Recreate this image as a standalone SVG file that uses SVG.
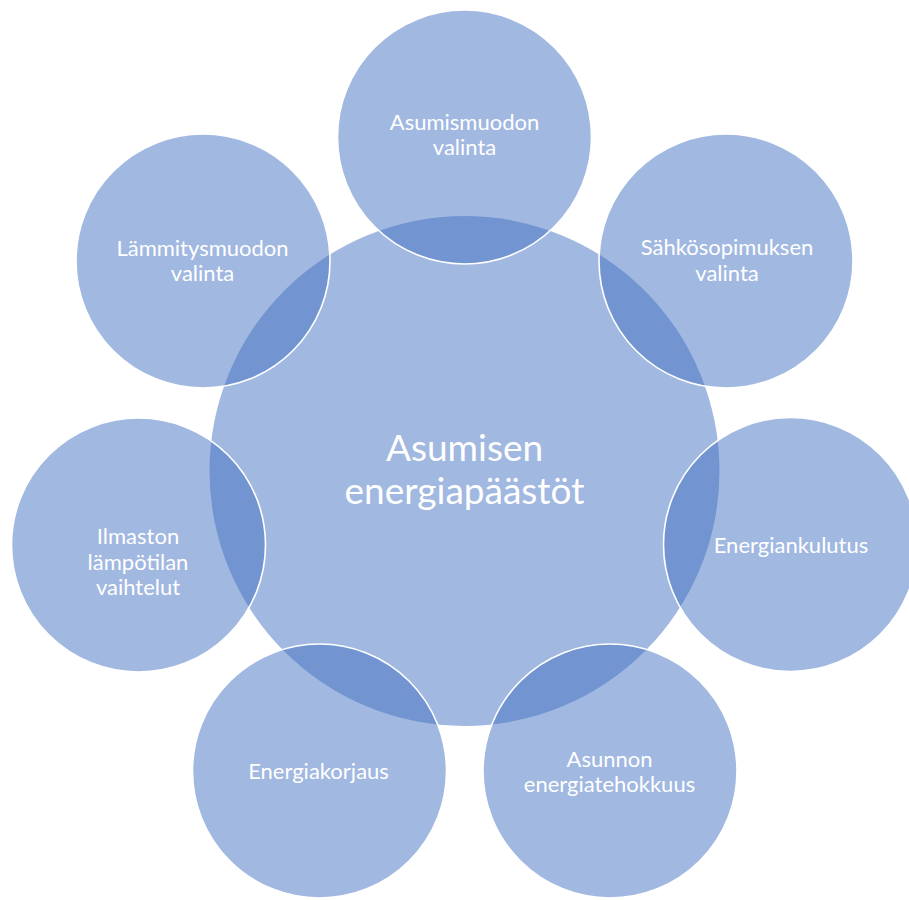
<svg xmlns="http://www.w3.org/2000/svg" width="909" height="900" viewBox="0 0 909 900">
<style>
.c{fill:#4472C4;fill-opacity:0.5;}
.o{fill:#4472C4;fill-opacity:0.5;stroke:#FFFFFF;stroke-width:1.6;}
.t{font-family:Lato,"Liberation Sans",sans-serif;font-size:22px;fill:#FFFFFF;text-anchor:middle;}
.tc{font-family:Lato,"Liberation Sans",sans-serif;font-size:37px;fill:#FFFFFF;text-anchor:middle;}
</style>
<rect width="909" height="900" fill="#FFFFFF"/>
<g id="center">
<circle class="c" cx="464.5" cy="471" r="255"/>
<text class="tc" x="464.5" y="461">Asumisen</text>
<text class="tc" x="464.5" y="503.5">energiapäästöt</text>
</g>
<g id="n1">
<circle class="o" cx="464.5" cy="137" r="127"/>
<text class="t" x="464.5" y="130">Asumismuodon</text>
<text class="t" x="464.5" y="154.5">valinta</text>
</g>
<g id="n2">
<circle class="o" cx="726" cy="261" r="127"/>
<text class="t" x="727" y="255">Sähkösopimuksen</text>
<text class="t" x="727" y="280.5">valinta</text>
</g>
<g id="n3">
<circle class="o" cx="790.5" cy="544.5" r="127"/>
<text class="t" x="791" y="552.5">Energiankulutus</text>
</g>
<g id="n4">
<circle class="o" cx="610" cy="771" r="127"/>
<text class="t" x="609.5" y="766.5">Asunnon</text>
<text class="t" x="609.5" y="791.5">energiatehokkuus</text>
</g>
<g id="n5">
<circle class="o" cx="319.5" cy="771" r="127"/>
<text class="t" x="318.5" y="779">Energiakorjaus</text>
</g>
<g id="n6">
<circle class="o" cx="138.5" cy="545" r="127"/>
<text class="t" x="138" y="544">Ilmaston</text>
<text class="t" x="138" y="570">lämpötilan</text>
<text class="t" x="138" y="595">vaihtelut</text>
</g>
<g id="n7">
<circle class="o" cx="203" cy="261" r="127"/>
<text class="t" x="202.5" y="256">Lämmitysmuodon</text>
<text class="t" x="202.5" y="280.5">valinta</text>
</g>
<g id="connectors"></g>
</svg>
